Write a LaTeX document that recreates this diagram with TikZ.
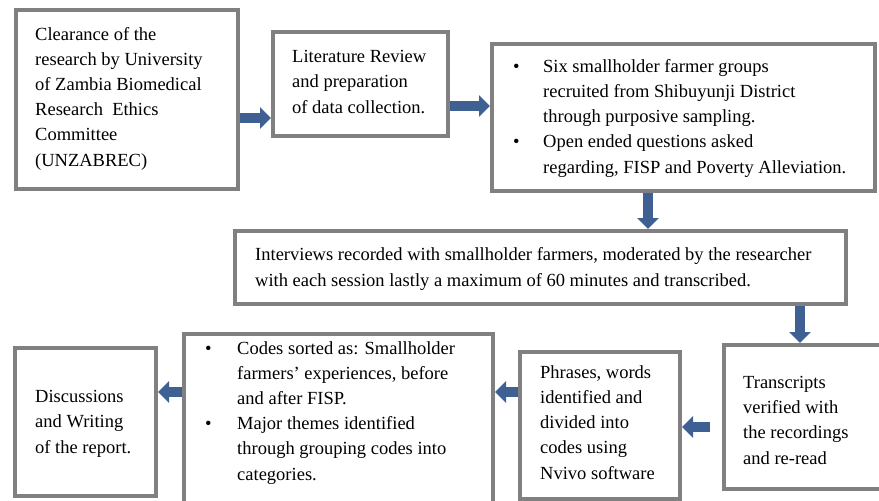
\documentclass[tikz,border=0pt]{standalone}
\usepackage{fontspec}
\setmainfont{Liberation Serif}
\usetikzlibrary{arrows.meta}
\definecolor{boxgray}{RGB}{128,128,128}
\definecolor{arrblue}{RGB}{62,96,146}
\tikzset{
  box/.style={draw=boxgray, line width=4pt, fill=white, inner sep=0pt, outer sep=auto},
  txt/.style={anchor=base west, align=left, inner sep=0pt, font=\fontsize{18.5}{25.2}\selectfont},
  barrow/.style={draw=arrblue, line width=10.5pt, -{Triangle[length=11pt,width=21pt]}, arrblue}
}
\newcommand{\bul}{\makebox[30pt][l]{\textbullet}}
\newcommand{\ind}{\hspace*{30pt}}
\begin{document}
\begin{tikzpicture}[x=1pt,y=-1pt]
\useasboundingbox[fill=white] (0,0) rectangle (879,501);
% boxes
\node[box, minimum width=222pt, minimum height=179pt] (b1) at (127,99.5) {};
\node[box, minimum width=175pt, minimum height=104pt] (b2) at (360.5,84) {};
\node[box, minimum width=383pt, minimum height=147pt] (b3) at (683.5,117.5) {};
\node[box, minimum width=611pt, minimum height=73pt] (b4) at (540.5,267.5) {};
\node[box, minimum width=179pt, minimum height=144pt] (b5) at (813.5,417) {};
\node[box, minimum width=160pt, minimum height=147pt] (b6) at (600,425.5) {};
\node[box, minimum width=309pt, minimum height=179pt] (b7) at (338.5,423.5) {};
\node[box, minimum width=141pt, minimum height=148pt] (b8) at (85.5,422) {};
% texts (anchor at baseline of last line)
\node[txt] (t1) at (35,166) {Clearance of the\\research by University\\of Zambia Biomedical\\Research\ \ Ethics\\Committee\\(UNZABREC)};
\node[txt] (t2) at (292,113) {Literature Review\\and preparation\\of data collection.};
\node[txt] (t3) at (513,173) {\bul Six smallholder farmer groups\\\ind recruited from Shibuyunji District\\\ind through purposive sampling.\\\bul Open ended questions asked\\\ind regarding, FISP and Poverty Alleviation.};
\node[txt] (t4) at (255,286) {Interviews recorded with smallholder farmers, moderated by the researcher\\with each session lastly a maximum of 60 minutes and transcribed.};
\node[txt] (t5) at (743,464) {Transcripts\\verified with\\the recordings\\and re-read};
\node[txt] (t6) at (540,479) {Phrases, words\\identified and\\divided into\\codes using\\Nvivo software};
\node[txt] (t7) at (205,480) {\makebox[32pt][l]{\textbullet}Codes sorted as: Smallholder\\\hspace*{32pt}farmers' experiences, before\\\hspace*{32pt}and after FISP.\\\makebox[32pt][l]{\textbullet}Major themes identified\\\hspace*{32pt}through grouping codes into\\\hspace*{32pt}categories.};
\node[txt] (t8) at (35,453) {Discussions\\and Writing\\of the report.};
% arrows
\coordinate (y12) at (0,118);
\coordinate (y23) at (0,106);
\coordinate (x34) at (648,0);
\coordinate (x45) at (800,0);
\coordinate (s56) at (710,427);
\coordinate (y67) at (0,392);
\draw[barrow] (b1.east |- y12) -- (b2.west |- y12);
\draw[barrow] (b2.east |- y23) -- (b3.west |- y23);
\draw[barrow] (b3.south -| x34) -- (b4.north -| x34);
\draw[barrow] (b4.south -| x45) -- (b5.north -| x45);
\draw[barrow] (s56) -- (b6.east |- s56);
\draw[barrow] (b6.west |- y67) -- (b7.east |- y67);
\draw[barrow] (b7.west |- y67) -- (b8.east |- y67);
\end{tikzpicture}
\end{document}
